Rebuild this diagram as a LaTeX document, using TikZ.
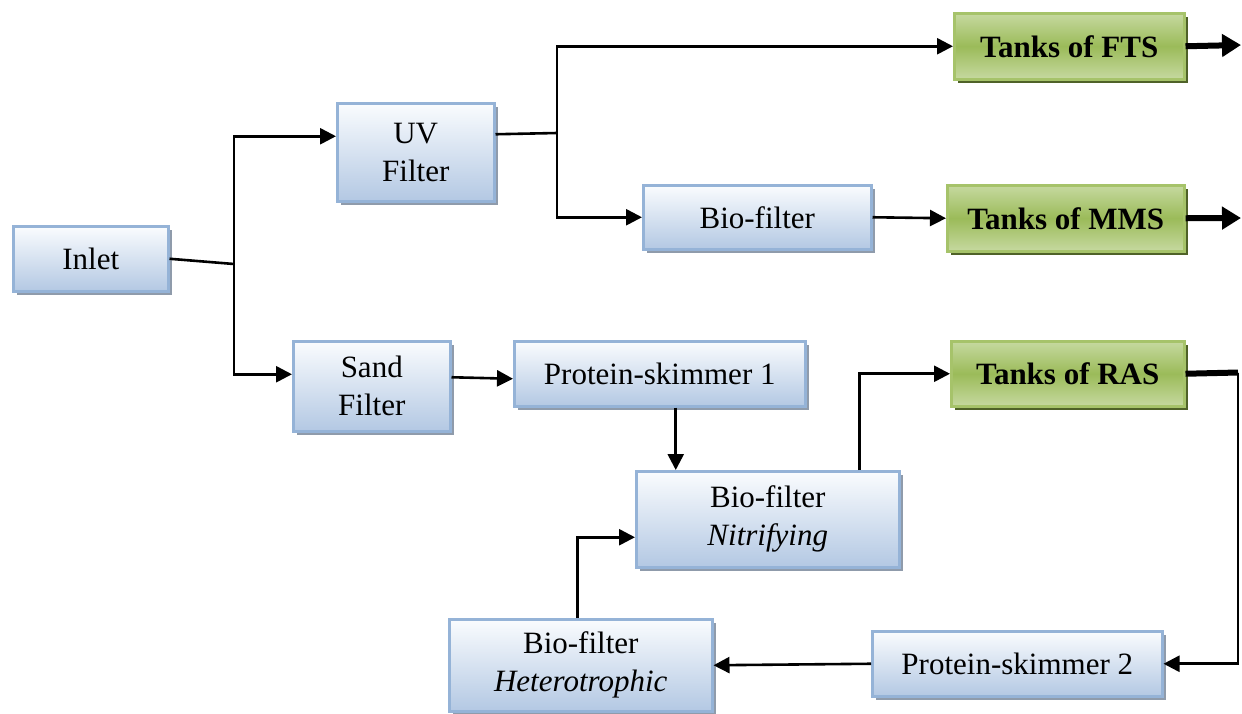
\documentclass[tikz,border=0pt]{standalone}
\usepackage{fontspec}
\setmainfont{Liberation Serif}
\newfontfamily\diagfont{Liberation Serif}
\usetikzlibrary{arrows.meta,shadows}

\definecolor{boxborder}{HTML}{95B3D7}
\definecolor{boxbottom}{HTML}{B3C8E3}
\definecolor{boxtop}{HTML}{FAFCFE}
\definecolor{boxshadow}{HTML}{8F9BAB}
\definecolor{tanklight}{HTML}{C6D9A0}
\definecolor{tankmid}{HTML}{9BBB59}
\definecolor{tankborder}{HTML}{A6C36A}
\definecolor{tankshadow}{HTML}{4F6228}

\tikzset{
  unit/.style={rectangle, anchor=north west, inner sep=0pt, align=center,
    line width=2.5pt, draw=boxborder, top color=boxtop, bottom color=boxbottom,
    drop shadow={shadow xshift=4pt, shadow yshift=-4pt, fill=boxshadow, opacity=1},
    font=\diagfont\fontsize{31}{38}\selectfont},
  tank/.style={rectangle, anchor=north west, inner sep=0pt, align=center,
    line width=2.5pt, draw=tankborder, top color=tanklight, bottom color=tanklight,
    middle color=tankmid,
    drop shadow={shadow xshift=4pt, shadow yshift=-4pt, fill=tankshadow, opacity=1},
    font=\diagfont\fontsize{31}{38}\selectfont\bfseries},
  pipe/.style={line width=2.6pt, draw=black},
  flow/.style={pipe, -{Triangle[length=16pt,width=16pt]}},
  outlet/.style={line width=6pt, draw=black, -{Triangle[length=19pt,width=22pt]}},
  mainpipe/.style={line width=6pt, draw=black}
}

\begin{document}
\begin{tikzpicture}[x=1pt,y=-1pt]
\useasboundingbox (0,0) rectangle (1242,713);

% process units
\node[unit, minimum width=155pt, minimum height=65pt] (inlet) at (12,225) {Inlet};
\node[unit, minimum width=157pt, minimum height=98pt] (uv) at (336,102) {UV\\Filter};
\node[unit, minimum width=228pt, minimum height=64pt] (bio) at (642,184) {Bio-filter};
\node[unit, minimum width=157pt, minimum height=90pt] (sand) at (292,340) {Sand\\Filter};
\node[unit, minimum width=291pt, minimum height=65pt] (ps1) at (513,340) {Protein-skimmer 1};
\node[unit, minimum width=263pt, minimum height=96pt] (nit) at (635,470) {Bio-filter\\\textit{Nitrifying}};
\node[unit, minimum width=263pt, minimum height=92pt] (het) at (448,618) {Bio-filter\\\textit{Heterotrophic}};
\node[unit, minimum width=290pt, minimum height=65pt] (ps2) at (871,630) {Protein-skimmer 2};

% culture tanks
\node[tank, minimum width=230pt, minimum height=66pt] (fts) at (953,12) {Tanks of FTS};
\node[tank, minimum width=237pt, minimum height=66pt] (mms) at (946,184) {Tanks of MMS};
\node[tank, minimum width=233pt, minimum height=65pt] (ras) at (950,340) {Tanks of RAS};

% junctions and free ends
\coordinate (jin) at (234,264);
\coordinate (juv) at (557,133);
\coordinate (ftsout) at (1241,45);
\coordinate (mmsout) at (1241,218);
\coordinate (rascorner) at (1238,372.5);

% inlet split
\draw[pipe] (inlet.east) -- (jin);
\draw[flow] (jin) |- ([yshift=16pt]uv.west);
\draw[flow] (jin) |- ([yshift=12pt]sand.west);

% UV branch
\draw[pipe] ([yshift=18pt]uv.east) -- (juv);
\draw[flow] (juv) |- (fts.west);
\draw[flow] (juv) |- (bio.west);
\draw[flow] (bio.east) -- (mms.west);
\draw[outlet] (fts.east) -- (ftsout);
\draw[outlet] (mms.east) -- (mmsout);

% recirculating loop
\draw[flow] ([yshift=9pt]sand.east) -- ([yshift=-5pt]ps1.west);
\draw[flow] ([xshift=16pt]ps1.south) -- ([xshift=16pt]ps1.south |- nit.north);
\draw[flow] ([xshift=92pt]nit.north) |- (ras.west);
\draw[mainpipe] (ras.east) -- (rascorner);
\draw[flow] (rascorner) |- (ps2.east);
\draw[flow] (ps2.west) -- (het.east);
\draw[flow] ([xshift=-3pt]het.north) |- ([yshift=-18pt]nit.west);
\end{tikzpicture}
\end{document}
